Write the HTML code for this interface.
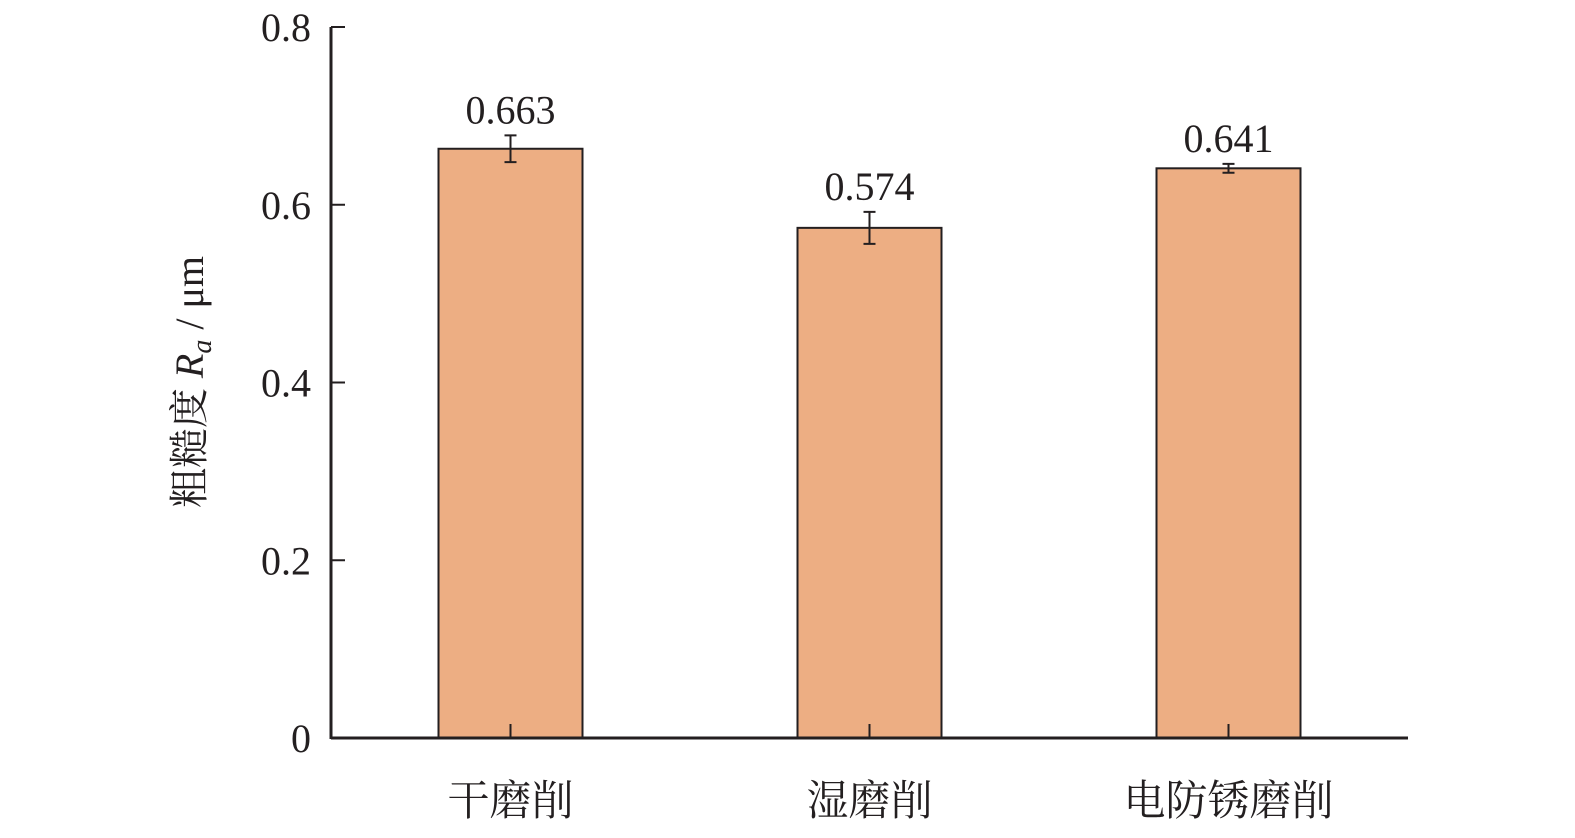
<!DOCTYPE html>
<html><head><meta charset="utf-8"><style>
body{margin:0;background:#fff}
svg text{font-family:"Liberation Serif","Noto Serif CJK SC",serif;fill:#231f20}
</style></head><body>
<svg id="chart" width="1575" height="833" viewBox="0 0 1575 833" xmlns="http://www.w3.org/2000/svg">
<g id="g"></g>
<text transform="translate(203,382) rotate(-90)" text-anchor="middle" font-size="40">粗糙度 <tspan font-style="italic">R</tspan><tspan font-style="italic" font-size="28" dy="8">a</tspan><tspan dy="-8"> / μm</tspan></text>
</svg>
<script>
const categories = ["干磨削","湿磨削","电防锈磨削"];
const values = [0.663,0.574,0.641];
const errors = [0.015,0.018,0.005];
const labels = ["0.663","0.574","0.641"];
const yTicks = [0,0.2,0.4,0.6,0.8];
const yTickLabels = ["0","0.2","0.4","0.6","0.8"];
const NS="http://www.w3.org/2000/svg";
const g=document.getElementById('g');
const x0=331,x1=1408,y0=738,yTop=27,yMax=0.8;
const band=(x1-x0)/categories.length;
const y=v=>y0-(v/yMax)*(y0-yTop);
const xc=i=>x0+band*(i+0.5);
function mk(tag,attrs){const e=document.createElementNS(NS,tag);for(const k in attrs)e.setAttribute(k,attrs[k]);g.appendChild(e);return e;}
values.forEach((v,i)=>{
  const r=mk('rect',{x:xc(i)-72,y:y(v),width:144,height:y0-y(v),fill:'#edae83',stroke:'#231f20','stroke-width':2});
  
  
  const e=errors[i],c=xc(i);
  const eb=mk('path',{d:`M${c},${y(v+e)}V${y(v-e)}M${c-6},${y(v+e)}H${c+6}M${c-6},${y(v-e)}H${c+6}`,stroke:'#231f20','stroke-width':2,fill:'none'});
  
  
  const t=mk('text',{x:c,y:y(v+e)-12,'text-anchor':'middle','font-size':40});
  t.textContent=labels[i];
  
  
  const tk=mk('line',{x1:c,x2:c,y1:y0,y2:y0-14,stroke:'#231f20','stroke-width':2});
  
  
  const cl=mk('text',{x:c,y:815,'text-anchor':'middle','font-size':42});
  cl.textContent=categories[i];
  
  
});
yTicks.forEach((v,i)=>{
  const tk=mk('line',{x1:x0,x2:x0+14,y1:y(v),y2:y(v),stroke:'#231f20','stroke-width':2});
  
  
  const t=mk('text',{x:311,y:y(v)+14,'text-anchor':'end','font-size':40});
  t.textContent=yTickLabels[i];
  
  
});
const ya=mk('line',{x1:x0,x2:x0,y1:yTop,y2:y0+1,stroke:'#231f20','stroke-width':3});


const xa=mk('line',{x1:x0,x2:x1,y1:y0,y2:y0,stroke:'#231f20','stroke-width':3});


</script>
</body></html>
